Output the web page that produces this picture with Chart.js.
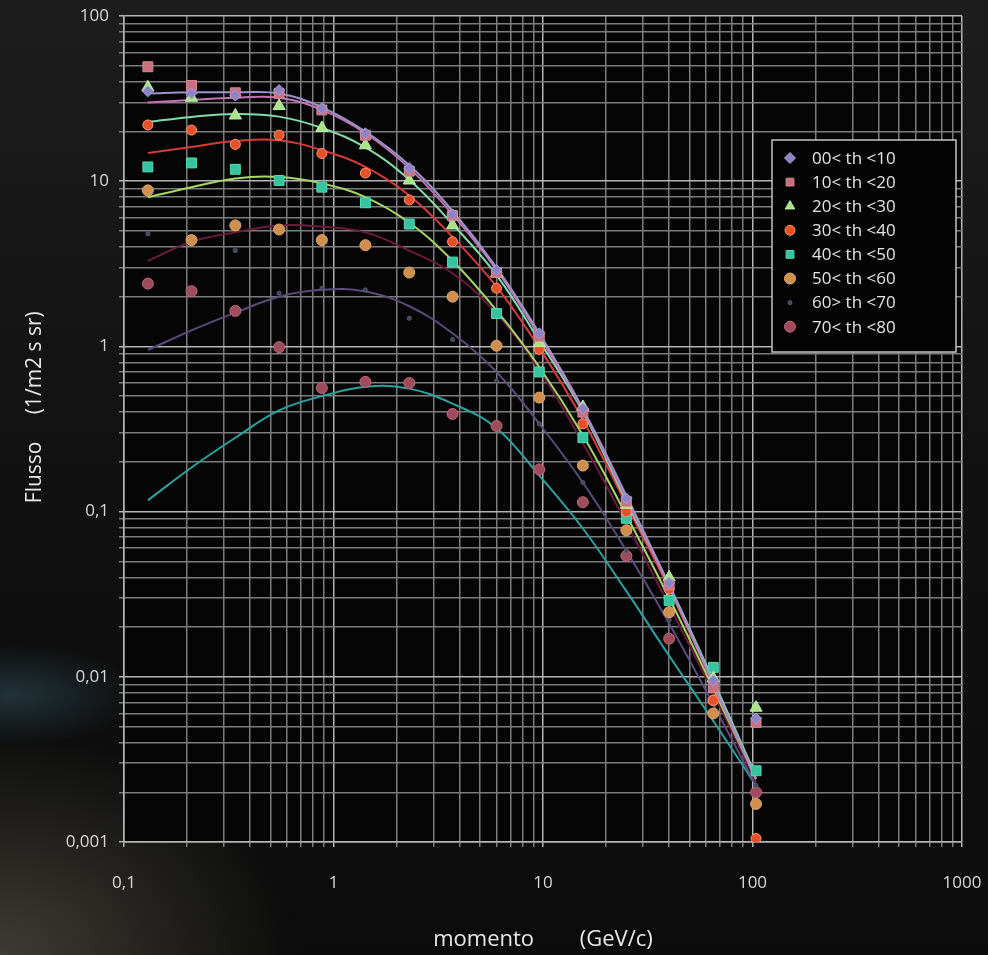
<!DOCTYPE html>
<html>
<head>
<meta charset="utf-8">
<script src="https://cdn.jsdelivr.net/npm/chart.js@4/dist/chart.umd.min.js"></script>
<style>
  html, body { margin: 0; padding: 0; }
  body {
    width: 988px; height: 955px; overflow: hidden;
    background:
      radial-gradient(ellipse 130px 50px at 10px 695px, rgba(60,105,120,0.4), rgba(0,0,0,0) 100%),
      radial-gradient(ellipse 300px 220px at 0px 955px, rgba(70,68,58,0.85), rgba(0,0,0,0) 100%),
      linear-gradient(180deg, #1d1d1d 0%, #111111 50%, #0b0b0b 100%);
  }
  #wrap { position: relative; width: 988px; height: 955px; }
</style>
</head>
<body>
<div id="wrap"><canvas id="c"></canvas></div>
<script>
// momentum (GeV/c) where the points sit
const momentum = [0.13, 0.21, 0.34, 0.55, 0.88, 1.42, 2.3, 3.7, 6.0, 9.6, 15.5, 25, 40, 65, 104]

const seriesLabels = ['00< th <10', '10< th <20', '20< th <30', '30< th <40',
  '40< th <50', '50< th <60', '60> th <70', '70< th <80']

// measured flux, one array per angle bin
const flux00 = [35, 34, 33, 35.6, 27.6, 19.5, 12, 6.3, 2.9, 1.2, 0.42, 0.12, 0.037, 0.0095, 0.0056]
const flux10 = [49.3, 38, 34.3, 34, 27, 19, 11.5, 6.2, 2.8, 1.15, 0.4, 0.115, 0.036, 0.0086, 0.0053]
const flux20 = [37, 32, 25, 28.5, 21, 16.5, 10.1, 5.4, 2.77, 1.05, 0.43, 0.11, 0.04, 0.0098, 0.0065]
const flux30 = [21.9, 20.4, 16.7, 19, 14.7, 11.2, 7.7, 4.3, 2.25, 0.96, 0.34, 0.1, 0.034, 0.0072, 0.00105]
const flux40 = [12.2, 12.9, 11.8, 10.1, 9.2, 7.4, 5.5, 3.24, 1.58, 0.7, 0.28, 0.091, 0.029, 0.0114, 0.0027]
const flux50 = [8.8, 4.4, 5.4, 5.1, 4.4, 4.1, 2.8, 2.0, 1.01, 0.49, 0.19, 0.077, 0.0246, 0.006, 0.0017]
const flux60 = [4.8, 4.3, 3.8, 2.1, 2.25, 2.2, 1.48, 1.1, 0.62, 0.34, 0.15, 0.058, 0.022, 0.007, 0.0022]
const flux70 = [2.4, 2.16, 1.64, 0.99, 0.56, 0.61, 0.6, 0.39, 0.33, 0.18, 0.114, 0.054, 0.017, 0.0072, 0.002]

// fitted curves at the same momenta
const trend00 = [34, 34.5, 34.5, 34, 28, 20, 12.5, 6.6, 3.0, 1.2, 0.42, 0.125, 0.036, 0.0092, 0.0024]
const trend10 = [30, 31, 32, 32, 27, 19.5, 12, 6.3, 2.9, 1.15, 0.41, 0.12, 0.035, 0.009, 0.0024]
const trend20 = [22.8, 24.5, 25.5, 24.6, 21, 16, 10.2, 5.5, 2.7, 1.08, 0.4, 0.115, 0.036, 0.0095, 0.0025]
const trend30 = [14.8, 16.1, 17.5, 17.7, 15.4, 12.2, 8.2, 4.6, 2.3, 0.98, 0.36, 0.11, 0.034, 0.009, 0.0024]
const trend40 = [8.0, 9.2, 10.4, 10.6, 9.7, 8.0, 5.6, 3.3, 1.65, 0.75, 0.29, 0.095, 0.03, 0.0085, 0.0024]
const trend50 = [3.3, 4.3, 4.9, 5.4, 5.3, 4.9, 3.8, 2.77, 1.58, 0.72, 0.26, 0.085, 0.027, 0.008, 0.0023]
const trend60 = [0.95, 1.25, 1.6, 2.0, 2.2, 2.15, 1.75, 1.2, 0.7, 0.34, 0.15, 0.058, 0.021, 0.0068, 0.0022]
const trend70 = [0.117, 0.185, 0.28, 0.41, 0.5, 0.57, 0.555, 0.45, 0.32, 0.165, 0.079, 0.033, 0.0134, 0.0054, 0.0022]

const xTicks = [0.1, 1, 10, 100, 1000]
const xTickLabels = ['0,1', '1', '10', '100', '1000']
const yTicks = [0.001, 0.01, 0.1, 1, 10, 100]
const yTickLabels = ['0,001', '0,01', '0,1', '1', '10', '100']

const fluxSeries = [flux00, flux10, flux20, flux30, flux40, flux50, flux60, flux70]
const trendSeries = [trend00, trend10, trend20, trend30, trend40, trend50, trend60, trend70]

const FONT = '"Open Sans", Lato, sans-serif'

// marker look per bin
const markers = [
  { style: 'rectRot', radius: 5.5, fill: '#8c82c4', border: '#a79fd8' },
  { style: 'rect', radius: 7, fill: '#c8707e', border: '#d98a96' },
  { style: 'triangle', radius: 7, fill: '#a6e486', border: '#c4f0a8' },
  { style: 'circle', radius: 5, fill: '#e8502a', border: '#ff9a70' },
  { style: 'rect', radius: 7, fill: '#36c4a0', border: '#52dcb6' },
  { style: 'circle', radius: 5.5, fill: '#cf8f4e', border: '#e2a86a' },
  { style: 'circle', radius: 2, fill: '#3e4658', border: '#56607a' },
  { style: 'circle', radius: 5.5, fill: '#9c4c5c', border: '#c06878' },
]
const trendColors = ['#9c94cc', '#c472b4', '#82dcaa', '#d83a3a', '#a4d862', '#6c1a3c', '#5c4a7c', '#2aa2a2']

function pairs(ys) {
  return momentum.map((x, i) => ({ x: x, y: ys[i] }))
}

function decadeTicks(list) {
  const out = []
  for (let i = 0; i < list.length - 1; i++) {
    for (let k = 1; k <= 9; k++) out.push({ value: Number((k * list[i]).toPrecision(10)) })
  }
  out.push({ value: list[list.length - 1] })
  return out
}

function labelFor(v, list, labels) {
  const i = list.findIndex(t => Math.abs(v - t) / t < 1e-6)
  return i >= 0 ? labels[i] : ''
}

const datasets = []
fluxSeries.forEach((ys, i) => {
  const m = markers[i]
  datasets.push({
    label: seriesLabels[i],
    data: pairs(ys),
    showLine: false,
    pointStyle: m.style,
    pointRadius: m.radius,
    pointBackgroundColor: m.fill,
    pointBorderColor: m.border,
    pointBorderWidth: 1,
    order: 0,
  })
})
trendSeries.forEach((ys, i) => {
  datasets.push({
    label: 'fit ' + seriesLabels[i],
    data: pairs(ys),
    showLine: true,
    borderColor: trendColors[i],
    borderWidth: 2,
    pointRadius: 0,
    tension: 0.4,
    fill: false,
    order: 1,
  })
})

// black plot area
const plotBackground = {
  id: 'plotBackground',
  beforeDraw(chart) {
    const { ctx, chartArea: a } = chart
    ctx.save()
    ctx.fillStyle = '#050505'
    ctx.fillRect(a.left, a.top, a.right - a.left, a.bottom - a.top)
    ctx.restore()
  }
}

// legend box inside the plot, upper right
const insideLegend = {
  id: 'insideLegend',
  afterDatasetsDraw(chart) {
    const { ctx } = chart
    const left = 772, top = 140, w = 184, h = 212, row = 24.1
    ctx.save()
    ctx.fillStyle = '#040404'
    ctx.fillRect(left, top, w, h)
    ctx.strokeStyle = '#c4c4c4'
    ctx.lineWidth = 1.5
    ctx.strokeRect(left, top, w, h)
    ctx.font = '17px ' + FONT
    ctx.textBaseline = 'middle'
    seriesLabels.forEach((lab, i) => {
      const y = top + 18 + i * row
      const m = markers[i]
      ctx.fillStyle = m.fill
      ctx.strokeStyle = m.border
      ctx.lineWidth = 1
      Chart.helpers.drawPoint(ctx, { pointStyle: m.style, radius: Math.min(m.radius, 5.5), rotation: 0, borderWidth: 1 }, left + 18, y)
      ctx.fillStyle = '#e4e4e4'
      ctx.fillText(lab, left + 40, y + 1)
    })
    ctx.restore()
  }
}

const gridColor = (list) => (c) => {
  const v = c.tick && c.tick.value
  return labelFor(v, list, list) !== '' ? '#b4b4b4' : '#7c7c7c'
}

new Chart(document.getElementById('c'), {
  type: 'scatter',
  data: { datasets: datasets },
  plugins: [plotBackground, insideLegend],
  options: {
    responsive: true,
    maintainAspectRatio: false,
    animation: false,
    layout: { padding: { left: 0, right: 26, top: 16, bottom: 0 } },
    plugins: {
      legend: { display: false },
      tooltip: { enabled: false },
    },
    scales: {
      x: {
        type: 'logarithmic',
        min: 0.1,
        max: 1000,
        afterBuildTicks: (scale) => { scale.ticks = decadeTicks(xTicks) },
        afterFit: (scale) => {
          scale.height = 113
          scale.paddingRight = 20
        },
        border: { color: '#b4b4b4', width: 1.5 },
        grid: { color: gridColor(xTicks), lineWidth: 1.5, tickLength: 5 },
        ticks: {
          autoSkip: false,
          maxRotation: 0,
          padding: 26,
          color: '#d8d8d8',
          font: { size: 17, family: FONT },
          callback: (v) => labelFor(v, xTicks, xTickLabels),
        },
        title: {
          display: true,
          text: 'momento        (GeV/c)',
          color: '#e8e8e8',
          font: { size: 22, family: FONT },
          padding: { top: 0, bottom: 2 },
        },
      },
      y: {
        type: 'logarithmic',
        min: 0.001,
        max: 100,
        afterBuildTicks: (scale) => { scale.ticks = decadeTicks(yTicks) },
        afterFit: (scale) => {
          scale.width = 124
          scale.paddingTop = 8
        },
        border: { color: '#b4b4b4', width: 1.5 },
        grid: { color: gridColor(yTicks), lineWidth: 1.5, tickLength: 5 },
        ticks: {
          autoSkip: false,
          padding: 10,
          color: '#d8d8d8',
          font: { size: 17, family: FONT },
          callback: (v) => labelFor(v, yTicks, yTickLabels),
        },
        title: {
          display: true,
          text: '        Flusso     (1/m2 s sr)',
          color: '#e8e8e8',
          font: { size: 21, family: FONT },
          padding: { top: 22, bottom: 0 },
        },
      },
    },
  },
})
</script>
</body>
</html>
